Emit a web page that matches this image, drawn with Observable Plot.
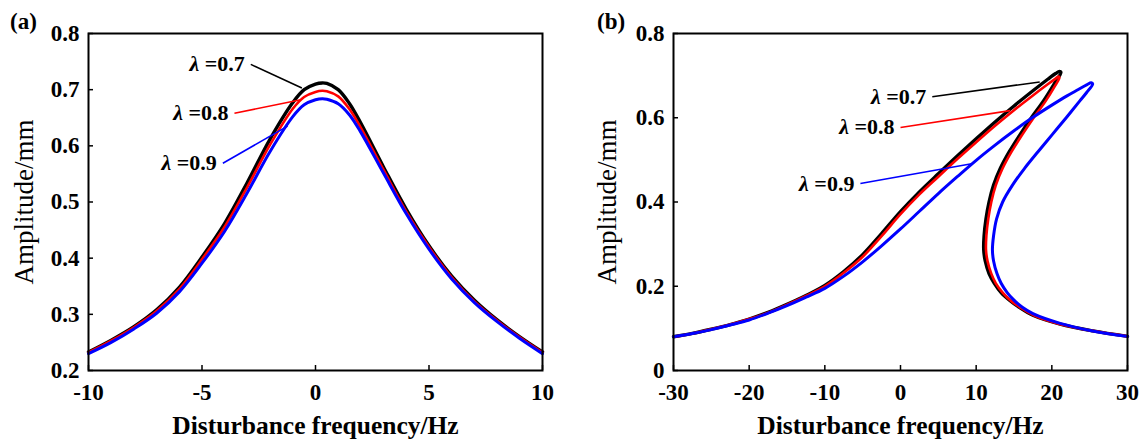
<!DOCTYPE html>
<html><head><meta charset="utf-8">
<script src="https://cdn.jsdelivr.net/npm/d3@7"></script>
<script src="https://cdn.jsdelivr.net/npm/@observablehq/plot@0.6"></script>
<style>
body{margin:0;background:#fff;}
#wrap{position:relative;width:1145px;height:444px;font-family:"Liberation Serif","Times New Roman",serif;color:#000;}
#wrap svg{position:absolute;top:0;font-family:"Liberation Serif","Times New Roman",serif;}
#wrap svg text{font-family:"Liberation Serif","Times New Roman",serif;}
.tag{position:absolute;font-weight:bold;font-size:23px;line-height:1;}
</style></head><body><div id="wrap"></div>
<script>
// ---------- Panel (a) data ----------
const freqA = [-10,-9,-8,-7,-6,-5,-4,-3,-2,-1,-0.5,0,0.3,0.5,1,1.5,2,3,4,5,6,7,8,9,10];
const ampA07 = [0.233,0.254,0.278,0.308,0.348,0.402,0.462,0.535,0.612,0.677,0.700,0.710,0.712,0.711,0.700,0.675,0.640,0.562,0.487,0.422,0.368,0.325,0.290,0.260,0.233];
const ampA08 = [0.232,0.253,0.277,0.306,0.345,0.398,0.456,0.527,0.602,0.666,0.687,0.696,0.698,0.697,0.688,0.665,0.632,0.557,0.483,0.420,0.366,0.323,0.289,0.259,0.232];
const ampA09 = [0.230,0.250,0.274,0.302,0.340,0.391,0.448,0.517,0.590,0.652,0.673,0.682,0.684,0.683,0.675,0.655,0.624,0.551,0.479,0.416,0.363,0.321,0.287,0.257,0.230];

// ---------- Panel (b) data (path order: upper branch, tip, lower branch) ----------
const freqB07 = [-30,-27.5,-25,-22.5,-20,-17.5,-15,-12.5,-10,-7.5,-5,-2.5,0,2.5,5,7.5,10,12.5,15,17.5,19.5,20.5,21.0,21.2,
  20.3,18.9,17.3,15.8,14.4,13.2,12.3,11.7,11.3,11.05,11.0,11.2,11.7,12.4,13.3,14.4,15.7,17.5,21.1,25.4,30];
const ampB07 = [0.080,0.088,0.098,0.109,0.122,0.138,0.157,0.178,0.202,0.235,0.275,0.325,0.377,0.424,0.467,0.509,0.550,0.590,0.628,0.664,0.692,0.705,0.710,0.708,
  0.680,0.640,0.600,0.560,0.520,0.480,0.440,0.400,0.360,0.320,0.286,0.260,0.230,0.207,0.185,0.167,0.150,0.131,0.110,0.094,0.081];
const freqB08 = [-30,-27.5,-25,-22.5,-20,-17.5,-15,-12.5,-10,-7.5,-5,-2.5,0,2.5,5,7.5,10,12.5,15,17.5,19.5,20.5,20.9,21.0,
  20.4,19.2,17.6,16.1,14.7,13.5,12.6,12.0,11.6,11.35,11.3,11.5,12.0,12.6,13.5,14.5,15.8,17.6,21.1,25.4,30];
const ampB08 = [0.080,0.088,0.098,0.109,0.122,0.137,0.156,0.177,0.200,0.232,0.270,0.319,0.371,0.418,0.460,0.502,0.542,0.581,0.618,0.653,0.680,0.693,0.698,0.695,
  0.675,0.640,0.600,0.560,0.520,0.480,0.440,0.400,0.360,0.320,0.286,0.260,0.230,0.207,0.185,0.167,0.150,0.131,0.110,0.094,0.081];
const freqB09 = [-30,-27.5,-25,-22.5,-20,-17.5,-15,-12.5,-10,-7.5,-5,-2.5,0,2.5,5,7.5,10,12.5,15,17.5,20,22,23.5,24.6,25.2,25.4,
  24.6,23.7,21.9,20.05,18.2,16.4,14.8,13.5,12.7,12.3,12.15,12.3,12.75,13.3,14.1,15.0,16.1,17.5,21.1,25.4,30];
const ampB09 = [0.080,0.088,0.097,0.108,0.120,0.136,0.154,0.174,0.195,0.224,0.258,0.296,0.336,0.378,0.420,0.460,0.499,0.535,0.569,0.601,0.630,0.652,0.667,0.678,0.683,0.680,
  0.660,0.640,0.600,0.560,0.520,0.480,0.440,0.400,0.360,0.320,0.286,0.260,0.230,0.207,0.185,0.167,0.150,0.135,0.112,0.094,0.081];

// ---------- series / labels ----------
const lambdas = ["0.7","0.8","0.9"];
const colors = ["#000000","#ff0000","#0000ff"];
const widths = [3.4,2.6,3];

// callouts: label start (x1,y1) -> point on curve (x2,y2), data units
const calloutA = {x1:[-2.85,-3.57,-4.08], y1:[0.745,0.658,0.569], x2:[-0.6,-0.65,-1.23], y2:[0.703,0.682,0.635]};
const calloutB = {x1:[4.2,0.0,-5.3], y1:[0.650,0.577,0.444], x2:[18.4,14.5,9.4], y2:[0.685,0.617,0.491]};

// ticks
const xTicksA = [-10,-5,0,5,10], xTickLabelsA = ["-10","-5","0","5","10"];
const yTicksA = [0.2,0.3,0.4,0.5,0.6,0.7,0.8], yTickLabelsA = ["0.2","0.3","0.4","0.5","0.6","0.7","0.8"];
const xTicksB = [-30,-20,-10,0,10,20,30], xTickLabelsB = ["-30","-20","-10","0","10","20","30"];
const yTicksB = [0,0.2,0.4,0.6,0.8], yTickLabelsB = ["0","0.2","0.4","0.6","0.8"];
const xLabel = "Disturbance frequency/Hz", yLabel = "Amplitude/mm";

// ---------- build ----------
function seriesTable(xs, ys) {
  const rows = [];
  xs.forEach((xArr, k) => xArr.forEach((x, i) => rows.push({x, y: ys[k][i], lam: lambdas[k]})));
  return rows;
}
function calloutTable(c) {
  return lambdas.map((lam, k) => ({lam, x1: c.x1[k], y1: c.y1[k], x2: c.x2[k], y2: c.y2[k]}));
}
const FONT = '"Liberation Serif", "Times New Roman", serif';

function panel(o) {
  const lines = lambdas.map((lam, k) =>
    Plot.line(o.rows.filter(d => d.lam === lam), {x: "x", y: "y", stroke: colors[k], strokeWidth: widths[k], curve: "catmull-rom"}));
  const fmt = (ticks, labels) => (d) => labels[ticks.indexOf(d)];
  const svg = Plot.plot({
    width: o.width, height: 444,
    marginLeft: o.marginLeft, marginRight: o.marginRight, marginTop: 33, marginBottom: 74,
    style: {fontFamily: FONT, background: "transparent", color: "#000", overflow: "visible"},
    x: {domain: o.xDomain},
    y: {domain: o.yDomain},
    marks: [
      ...lines,
      Plot.link(o.callouts, {x1: "x1", y1: "y1", x2: "x2", y2: "y2", stroke: d => colors[lambdas.indexOf(d.lam)], strokeWidth: 1.6}),
      Plot.text(o.callouts, {x: "x1", y: "y1", text: d => "λ =" + d.lam, textAnchor: "end", dx: -6, fontWeight: "bold", fontSize: 22, fontFamily: FONT, fill: "#000", className: "lam"}),
      Plot.axisX({ticks: o.xTicks, tickSize: -5, tickFormat: () => "", strokeWidth: 1.5, label: null}),
      Plot.axisX({ticks: o.xTicks, tickSize: 0, tickPadding: 13, tickFormat: fmt(o.xTicks, o.xLabels), fontSize: 23, fontWeight: "bold", fontFamily: FONT, label: null}),
      Plot.axisY({ticks: o.yTicks, tickSize: -5, tickFormat: () => "", strokeWidth: 1.5, label: null}),
      Plot.axisY({ticks: o.yTicks, tickSize: 0, tickPadding: 9, tickFormat: fmt(o.yTicks, o.yLabels), fontSize: 23, fontWeight: "bold", fontFamily: FONT, label: null}),
      Plot.frame({stroke: "#000", strokeWidth: 2}),
      Plot.text([xLabel], {frameAnchor: "bottom", dy: 55, fontSize: 25.5, fontWeight: "bold", fontFamily: FONT, textAnchor: "middle", lineAnchor: "middle", fill: "#000"}),
      Plot.text([yLabel], {frameAnchor: "left", dx: o.yLabelDx, rotate: -90, fontSize: 27, fontFamily: FONT, textAnchor: "middle", lineAnchor: "middle", fill: "#000"})
    ]
  });
  d3.select(svg).selectAll(".lam text").each(function() {
    const t = this.textContent.replace("λ", "");
    const s = d3.select(this); s.text("");
    s.append("tspan").attr("font-style", "italic").text("λ");
    s.append("tspan").text(t);
  });
  svg.style.left = o.left + "px";
  return svg;
}

const wrap = document.getElementById("wrap");
wrap.appendChild(panel({
  left: 0, width: 572, marginLeft: 88, marginRight: 30,
  xDomain: [-10, 10], yDomain: [0.2, 0.8],
  xTicks: xTicksA, xLabels: xTickLabelsA, yTicks: yTicksA, yLabels: yTickLabelsA,
  rows: seriesTable([freqA, freqA, freqA], [ampA07, ampA08, ampA09]),
  callouts: calloutTable(calloutA), yLabelDx: -64
}));
wrap.appendChild(panel({
  left: 572, width: 573, marginLeft: 101, marginRight: 18,
  xDomain: [-30, 30], yDomain: [0, 0.8],
  xTicks: xTicksB, xLabels: xTickLabelsB, yTicks: yTicksB, yLabels: yTickLabelsB,
  rows: seriesTable([freqB07, freqB08, freqB09], [ampB07, ampB08, ampB09]),
  callouts: calloutTable(calloutB), yLabelDx: -66
}));
const tags = [["(a)", 10, 10], ["(b)", 597, 10]];
for (const [t, x, y] of tags) {
  const d = document.createElement("div");
  d.className = "tag"; d.textContent = t; d.style.left = x + "px"; d.style.top = y + "px";
  wrap.appendChild(d);
}
</script></body></html>
